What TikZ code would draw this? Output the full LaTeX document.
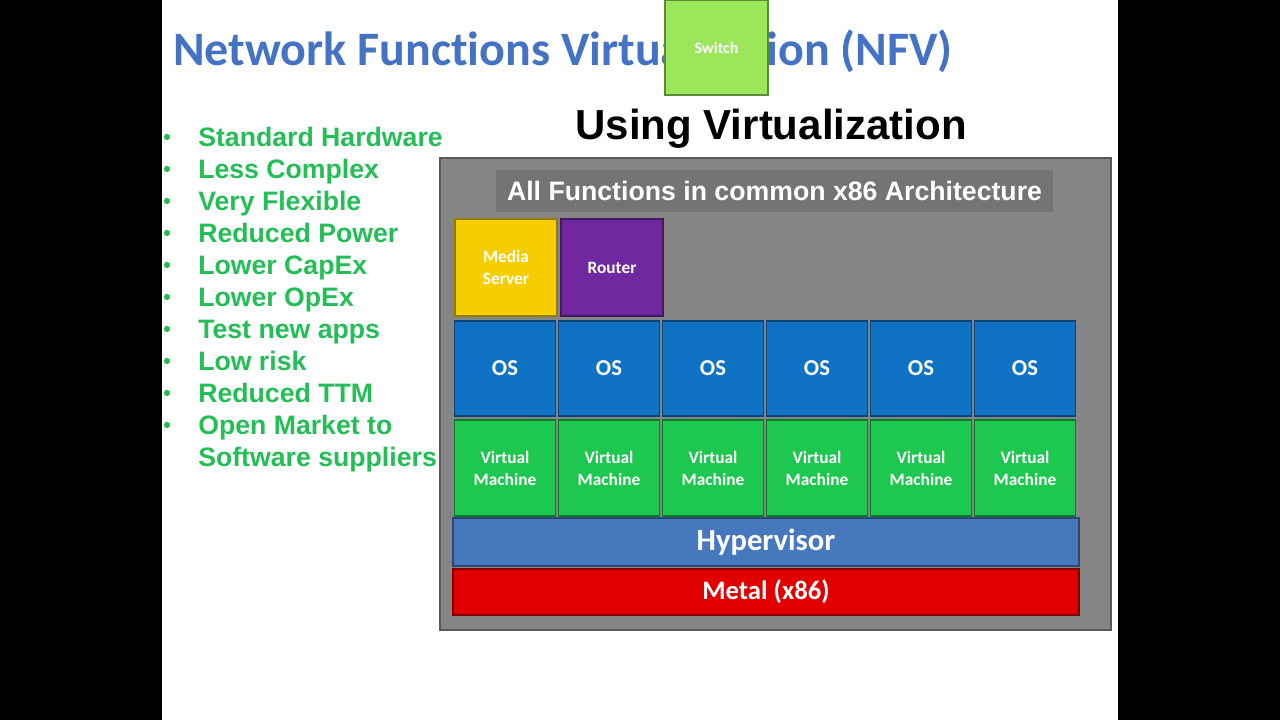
\documentclass[tikz,border=0pt]{standalone}
\usepackage{fontspec}
\setmainfont{Liberation Sans}
\newfontfamily\cfont[Ligatures=NoCommon]{Carlito}
\definecolor{titleblue}{RGB}{68,114,196}
\definecolor{switchgreen}{RGB}{155,230,90}
\definecolor{panelgray}{RGB}{133,133,133}
\definecolor{hdrgray}{RGB}{116,116,116}
\definecolor{mediayellow}{RGB}{245,205,0}
\definecolor{routerpurple}{RGB}{112,40,160}
\definecolor{osblue}{RGB}{16,114,196}
\definecolor{vmgreen}{RGB}{30,200,80}
\definecolor{hypblue}{RGB}{70,120,190}
\definecolor{metalred}{RGB}{225,0,0}
\definecolor{listgreen}{RGB}{35,190,85}
\tikzset{
  blk/.style={fill=#1, draw=#1!60!black, line width=1.2pt, inner sep=0pt, outer sep=0pt,
    text=white, align=center},
  cell/.style={minimum width=75.75pt, minimum height=71.25pt},
  pt/.style={anchor=base west, inner sep=0pt, text=listgreen, font=\bfseries\fontsize{20}{24}\selectfont},
  dot/.style={anchor=base west, inner sep=0pt, text=listgreen, font=\bfseries\fontsize{16}{18}\selectfont},
}
\begin{document}
\begin{tikzpicture}[x=0.75pt,y=-0.75pt]
\useasboundingbox (0,0) rectangle (1280,720);
\fill[black] (0,0) rectangle (1280,720);
\fill[white] (162,0) rectangle (1118,720);

\node[anchor=base west, inner sep=0pt, text=titleblue, font=\cfont\bfseries\fontsize{36}{40}\selectfont] (title) at (173,66) {Network Functions Virtualization (NFV)};
\node[blk=switchgreen, minimum width=77.25pt, minimum height=71.25pt, font=\cfont\bfseries\fontsize{12}{14}\selectfont] (switch) at (716.5,47.5) {Switch};
\node[anchor=base, font=\bfseries\fontsize{31.5}{36}\selectfont] (using) at (771,140) {Using Virtualization};

\node[pt] (l1) at (198,146.5) {Standard Hardware};
\node[pt] (l2) at (198,178.5) {Less Complex};
\node[pt] (l3) at (198,210.5) {Very Flexible};
\node[pt] (l4) at (198,242.5) {Reduced Power};
\node[pt] (l5) at (198,274.5) {Lower CapEx};
\node[pt] (l6) at (198,306.5) {Lower OpEx};
\node[pt] (l7) at (198,338.5) {Test new apps};
\node[pt] (l8) at (198,370.5) {Low risk};
\node[pt] (l9) at (198,402.5) {Reduced TTM};
\node[pt] (l10) at (198,434.5) {Open Market to};
\node[pt] (l11) at (198,466.5) {Software suppliers};
\node[dot] (b1) at (163,144.5) {•};
\node[dot] (b2) at (163,176.5) {•};
\node[dot] (b3) at (163,208.5) {•};
\node[dot] (b4) at (163,240.5) {•};
\node[dot] (b5) at (163,272.5) {•};
\node[dot] (b6) at (163,304.5) {•};
\node[dot] (b7) at (163,336.5) {•};
\node[dot] (b8) at (163,368.5) {•};
\node[dot] (b9) at (163,400.5) {•};
\node[dot] (b10) at (163,432.5) {•};

\node[fill=panelgray, draw=black!65, line width=2pt, minimum width=503.25pt, minimum height=354pt, inner sep=0pt] (panel) at (775.5,394) {};
\node[fill=hdrgray, minimum width=417.75pt, minimum height=31.5pt, inner sep=0pt, text=white, font=\bfseries\fontsize{20}{22}\selectfont] (hdr) at (774.5,191) {All Functions in common x86 Architecture};

\node[blk=mediayellow, minimum width=76.5pt, minimum height=72.75pt, font=\cfont\bfseries\fontsize{13}{16.5}\selectfont] (media) at (506,267.5) {Media\\Server};
\node[blk=routerpurple, minimum width=76.5pt, minimum height=72.75pt, font=\cfont\bfseries\fontsize{13}{16.5}\selectfont] (router) at (612,267.5) {Router};

\node[blk=osblue, cell, font=\cfont\bfseries\fontsize{17}{20}\selectfont] (os1) at (505,368.5) {OS};
\node[blk=osblue, cell, font=\cfont\bfseries\fontsize{17}{20}\selectfont] (os2) at (609,368.5) {OS};
\node[blk=osblue, cell, font=\cfont\bfseries\fontsize{17}{20}\selectfont] (os3) at (713,368.5) {OS};
\node[blk=osblue, cell, font=\cfont\bfseries\fontsize{17}{20}\selectfont] (os4) at (817,368.5) {OS};
\node[blk=osblue, cell, font=\cfont\bfseries\fontsize{17}{20}\selectfont] (os5) at (921,368.5) {OS};
\node[blk=osblue, cell, font=\cfont\bfseries\fontsize{17}{20}\selectfont] (os6) at (1025,368.5) {OS};

\node[blk=vmgreen, cell, minimum height=72pt, font=\cfont\bfseries\fontsize{13}{16.5}\selectfont] (vm1) at (505,468) {Virtual\\Machine};
\node[blk=vmgreen, cell, minimum height=72pt, font=\cfont\bfseries\fontsize{13}{16.5}\selectfont] (vm2) at (609,468) {Virtual\\Machine};
\node[blk=vmgreen, cell, minimum height=72pt, font=\cfont\bfseries\fontsize{13}{16.5}\selectfont] (vm3) at (713,468) {Virtual\\Machine};
\node[blk=vmgreen, cell, minimum height=72pt, font=\cfont\bfseries\fontsize{13}{16.5}\selectfont] (vm4) at (817,468) {Virtual\\Machine};
\node[blk=vmgreen, cell, minimum height=72pt, font=\cfont\bfseries\fontsize{13}{16.5}\selectfont] (vm5) at (921,468) {Virtual\\Machine};
\node[blk=vmgreen, cell, minimum height=72pt, font=\cfont\bfseries\fontsize{13}{16.5}\selectfont] (vm6) at (1025,468) {Virtual\\Machine};

\node[blk=hypblue, minimum width=469.5pt, minimum height=36pt, font=\cfont\bfseries\fontsize{23}{26}\selectfont] (hyp) at (766,542) {Hypervisor};
\node[blk=metalred, minimum width=469.5pt, minimum height=34.5pt, font=\cfont\bfseries\fontsize{20}{24}\selectfont] (metal) at (766,592) {Metal (x86)};
\end{tikzpicture}
\end{document}
